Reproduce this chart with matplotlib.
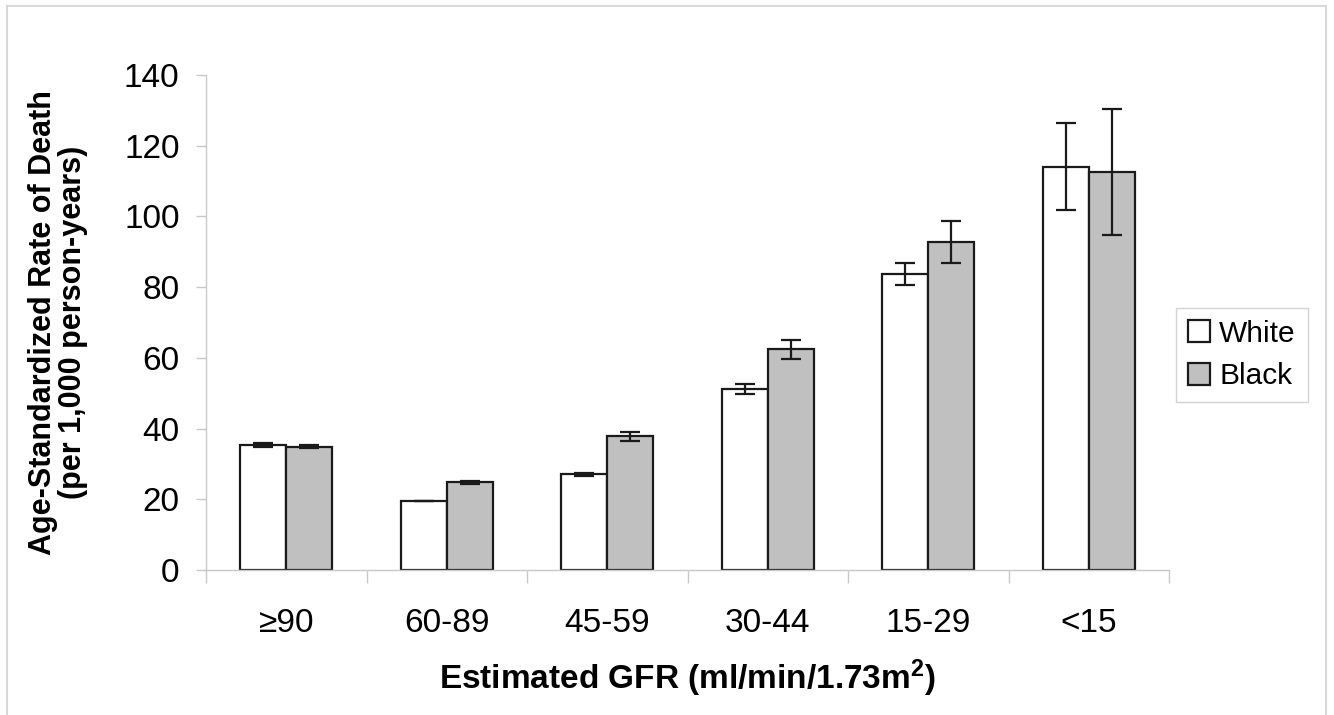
import matplotlib
matplotlib.use("Agg")
import matplotlib.pyplot as plt
from matplotlib.patches import Rectangle
import numpy as np

plt.rcParams['font.family'] = ['Liberation Sans', 'DejaVu Sans']
plt.rcParams['mathtext.fontset'] = 'custom'
plt.rcParams['mathtext.bf'] = 'Liberation Sans:bold'
plt.rcParams['mathtext.rm'] = 'Liberation Sans'

categories = ['≥90', '60-89', '45-59', '30-44', '15-29', '<15']
white_vals = [35.4, 19.5, 27.1, 51.3, 83.6, 114.0]
white_err = [0.5, 0.0, 0.4, 1.4, 3.1, 12.3]
black_vals = [34.9, 24.8, 37.8, 62.4, 92.7, 112.6]
black_err = [0.5, 0.4, 1.3, 2.7, 5.9, 17.8]
series_names = ['White', 'Black']
yticks = [0, 20, 40, 60, 80, 100, 120, 140]

W, H = 1334, 715
fig = plt.figure(figsize=(W / 100, H / 100), dpi=100)
ax = fig.add_axes([206 / W, 1 - 570 / H, (1169 - 206) / W, (570 - 75) / H])

x = np.arange(len(categories))
bw = 0.2875
errkw = dict(ecolor='#1a1a1a', elinewidth=1.6, capsize=7.5, capthick=1.6)
ax.bar(x - bw / 2, white_vals, bw, yerr=white_err, color='white', edgecolor='#1a1a1a',
       linewidth=1.6, label=series_names[0], error_kw=errkw, zorder=2)
ax.bar(x + bw / 2, black_vals, bw, yerr=black_err, color='#c0c0c0', edgecolor='#1a1a1a',
       linewidth=1.6, label=series_names[1], error_kw=errkw, zorder=2)

ax.set_xlim(-0.5, len(categories) - 0.5)
ax.set_ylim(0, 140)
ax.set_yticks(yticks)
ax.set_yticklabels([str(v) for v in yticks], fontsize=24)
ax.tick_params(axis='y', length=7, width=1, color='#c8c8c8', pad=12)

ax.set_xticks(np.arange(len(categories) + 1) - 0.5)
ax.set_xticklabels([])
ax.set_xticks(x, minor=True)
ax.set_xticklabels(categories, minor=True, fontsize=24)
ax.tick_params(axis='x', which='major', length=9, width=1, color='#c8c8c8')
ax.tick_params(axis='x', which='minor', length=0, pad=27)

for s in ['top', 'right']:
    ax.spines[s].set_visible(False)
for s in ['left', 'bottom']:
    ax.spines[s].set_color('#c8c8c8')
    ax.spines[s].set_linewidth(1)

ax.set_ylabel('Age-Standardized Rate of Death\n(per 1,000 person-years)', fontsize=22,
              fontweight='bold', labelpad=26, linespacing=1.0)
ax.set_xlabel(r'Estimated GFR (ml/min/1.73m$\mathbf{^{2}}$)', fontsize=24,
              fontweight='bold', labelpad=14)

leg = fig.legend(loc='center left', bbox_to_anchor=(1176 / W, 1 - 355 / H), fontsize=21.5,
                 frameon=True, fancybox=False, edgecolor='#c8c8c8', handlelength=0.75,
                 handleheight=0.75, handletextpad=0.3, borderpad=0.4, labelspacing=0.5,
                 borderaxespad=0)
leg.get_frame().set_linewidth(1)

fig.patches.append(Rectangle((7 / W, -0.05), (1326 - 7) / W, 1.05 - 6 / H,
                             transform=fig.transFigure, fill=False, edgecolor='#d8d8d8',
                             linewidth=1.5))

fig.savefig('out.png', dpi=100)
